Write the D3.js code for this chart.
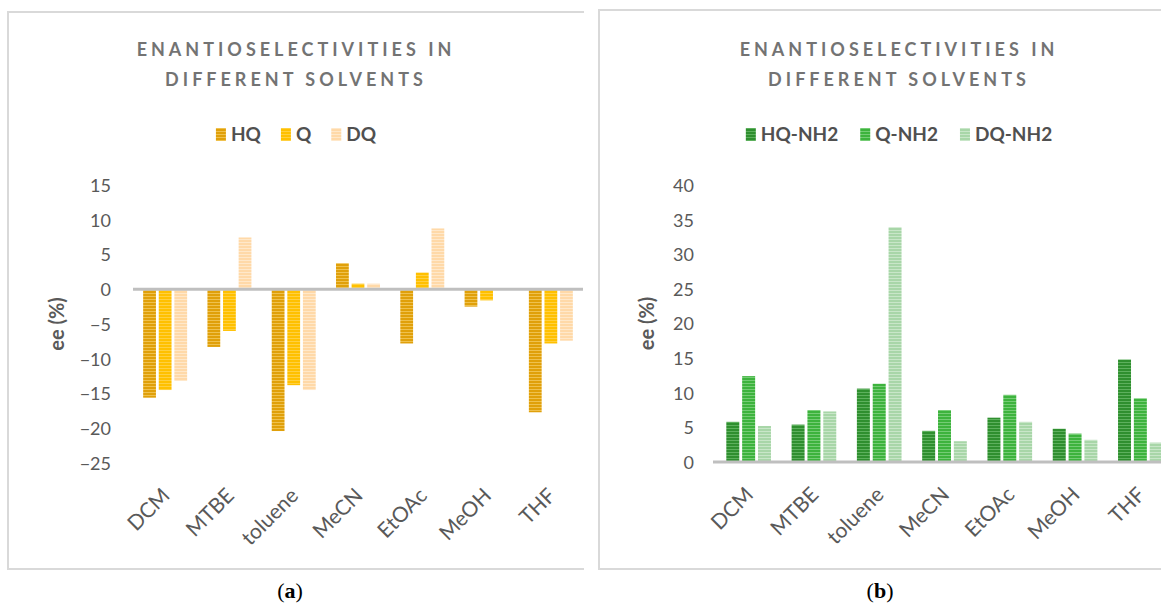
<!DOCTYPE html>
<html lang="en">
<head>
<meta charset="utf-8">
<title>Enantioselectivities</title>
<script type="text/javascript" src="https://d3js.org/d3.v7.min.js"></script>
<style type="text/css">
body { margin: 0; background: #fff; }
svg text { font-family: Lato, "Open Sans", sans-serif; }
.tick text { font-size: 18px; fill: #595959; }
.title { font-size: 18px; font-weight: bold; fill: #737373; letter-spacing: 4px; }
.legend text { font-size: 19px; font-weight: bold; fill: #505050; }
.ylab { font-size: 20px; font-weight: bold; fill: #595959; }
.xlab { font-size: 21px; fill: #595959; }
.caption { font-family: "Liberation Serif", serif; font-size: 22px; fill: #000; }
</style>
</head>
<body>
<script type="text/javascript">

var solvents = ["DCM", "MTBE", "toluene", "MeCN", "EtOAc", "MeOH", "THF"];

// panel (a)
var seriesA = ["HQ", "Q", "DQ"];
var hqA = [-15.6, -8.3, -20.4, 3.75, -7.8, -2.5, -17.7];
var qA  = [-14.5, -6.0, -13.8, 0.8, 2.4, -1.6, -7.8];
var dqA = [-13.2, 7.45, -14.5, 0.8, 8.75, 0, -7.4];
var ticksA = [-25, -20, -15, -10, -5, 0, 5, 10, 15];

// panel (b)
var seriesB = ["HQ-NH2", "Q-NH2", "DQ-NH2"];
var hqB = [5.8, 5.4, 10.6, 4.5, 6.4, 4.8, 14.8];
var qB  = [12.4, 7.5, 11.3, 7.5, 9.7, 4.1, 9.2];
var dqB = [5.2, 7.3, 33.9, 3.0, 5.8, 3.2, 2.8];
var ticksB = [0, 5, 10, 15, 20, 25, 30, 35, 40];

var titleLines = ["ENANTIOSELECTIVITIES IN", "DIFFERENT SOLVENTS"];

var w = 1161, h = 605;

var svg = d3.select("body").append("svg")
    .attr("width", w)
    .attr("height", h);

var defs = svg.append("defs");

// horizontal stripe fills, like the excel pattern
function stripe(id, base, line) {
    var p = defs.append("pattern")
        .attr("id", id)
        .attr("patternUnits", "userSpaceOnUse")
        .attr("width", 4)
        .attr("height", 3);
    p.append("rect").attr("width", 4).attr("height", 3).attr("fill", base);
    p.append("rect").attr("y", 2).attr("width", 4).attr("height", 1).attr("fill", line);
}
stripe("pHQ", "#E0A00A", "#EFC14E");
stripe("pQ", "#FFC000", "#FFD040");
stripe("pDQ", "#FFD9A8", "#FFE8CA");
stripe("pHQN", "#2F8F2F", "#5DB05D");
stripe("pQN", "#3DB33D", "#74CC74");
stripe("pDQN", "#A8D6A8", "#C8E6C8");

function drawPanel(cfg) {
    var g = svg.append("g");

    // frame
    g.append("path")
        .attr("d", cfg.frame)
        .attr("fill", "none")
        .attr("stroke", "#D9D9D9")
        .attr("stroke-width", 2);

    g.selectAll(".title")
        .data(titleLines)
        .enter()
        .append("text")
        .attr("class", "title")
        .attr("x", cfg.cx)
        .attr("y", function(d, i) { return 56 + i * 30; })
        .attr("text-anchor", "middle")
        .text(function(d) { return d; });

    var x0 = d3.scaleBand()
        .domain(solvents)
        .range(cfg.xr);

    var x1 = d3.scaleBand()
        .domain(cfg.series)
        .range([x0.bandwidth() * 0.158, x0.bandwidth() * 0.842])
        .paddingInner(0.18);

    var y = d3.scaleLinear()
        .domain(cfg.dom)
        .range([cfg.yb, 185]);

    var yAxis = d3.axisLeft(y)
        .tickValues(cfg.ticks)
        .tickSize(0)
        .tickPadding(0);

    g.append("g")
        .attr("transform", "translate(" + cfg.tx + ",0)")
        .call(yAxis)
        .call(function(a) { a.select(".domain").remove(); })
        .selectAll("text")
        .attr("dy", "0.36em");

    g.append("text")
        .attr("class", "ylab")
        .attr("transform", "translate(" + cfg.lx + "," + ((cfg.yb + 185) / 2) + ")rotate(-90)")
        .attr("text-anchor", "middle")
        .attr("dy", "0.35em")
        .text("ee (%)");

    var rows = [];
    solvents.forEach(function(s, i) {
        cfg.series.forEach(function(k, j) {
            rows.push({cat: s, key: k, v: cfg.vals[j][i], fill: cfg.fills[j]});
        });
    });

    g.selectAll(".bar")
        .data(rows.filter(function(d) { return d.v !== 0; }))
        .enter()
        .append("rect")
        .attr("class", "bar")
        .attr("x", function(d) { return x0(d.cat) + x1(d.key); })
        .attr("width", x1.bandwidth())
        .attr("y", function(d) { return y(Math.max(0, d.v)); })
        .attr("height", function(d) { return Math.abs(y(d.v) - y(0)); })
        .attr("fill", function(d) { return "url(#" + d.fill + ")"; });

    // zero line
    g.append("line")
        .attr("x1", cfg.xr[0] - cfg.lineOff)
        .attr("x2", cfg.xr[1])
        .attr("y1", y(0))
        .attr("y2", y(0))
        .attr("stroke", "#BFBFBF")
        .attr("stroke-width", 3);

    g.selectAll(".xlab")
        .data(solvents)
        .enter()
        .append("text")
        .attr("class", "xlab")
        .attr("text-anchor", "end")
        .attr("transform", function(d) {
            return "translate(" + (x0(d) + x0.bandwidth() / 2 + 6) + "," + (cfg.yb + 34) + ")rotate(-45)";
        })
        .text(function(d) { return d; });

    // legend
    var leg = g.append("g").attr("class", "legend");
    var xpos = 0;
    cfg.series.forEach(function(k, j) {
        var it = leg.append("g");
        it.append("rect")
            .attr("x", 0).attr("y", 128)
            .attr("width", 10).attr("height", 13)
            .attr("fill", "url(#" + cfg.fills[j] + ")");
        var t = it.append("text")
            .attr("x", 15).attr("y", 141)
            .text(k);
        var tw = t.node().getComputedTextLength();
        it.attr("transform", "translate(" + xpos + ",0)");
        xpos += 15 + tw + cfg.legGap;
    });
    xpos -= cfg.legGap;
    leg.attr("transform", "translate(" + (cfg.cx - xpos / 2) + ",0)");
}

drawPanel({
    frame: "M584,12H8V569H584",
    cx: 296,
    xr: [133, 583],
    lineOff: 0,
    dom: [-25, 15],
    yb: 463,
    ticks: ticksA,
    tx: 111,
    lx: 57,
    series: seriesA,
    vals: [hqA, qA, dqA],
    fills: ["pHQ", "pQ", "pDQ"],
    legGap: 20
});

drawPanel({
    frame: "M1161,10H599V569H1161",
    cx: 899,
    xr: [716, 1173],
    lineOff: 3,
    dom: [0, 40],
    yb: 462,
    ticks: ticksB,
    tx: 694,
    lx: 647,
    series: seriesB,
    vals: [hqB, qB, dqB],
    fills: ["pHQN", "pQN", "pDQN"],
    legGap: 22
});

// captions
var cap = svg.selectAll(".caption")
    .data([{x: 290, l: "a"}, {x: 880, l: "b"}])
    .enter()
    .append("text")
    .attr("class", "caption")
    .attr("x", function(d) { return d.x; })
    .attr("y", 598)
    .attr("text-anchor", "middle");
cap.append("tspan").text("(");
cap.append("tspan").attr("font-weight", "bold").text(function(d) { return d.l; });
cap.append("tspan").text(")");

</script>
</body>
</html>
